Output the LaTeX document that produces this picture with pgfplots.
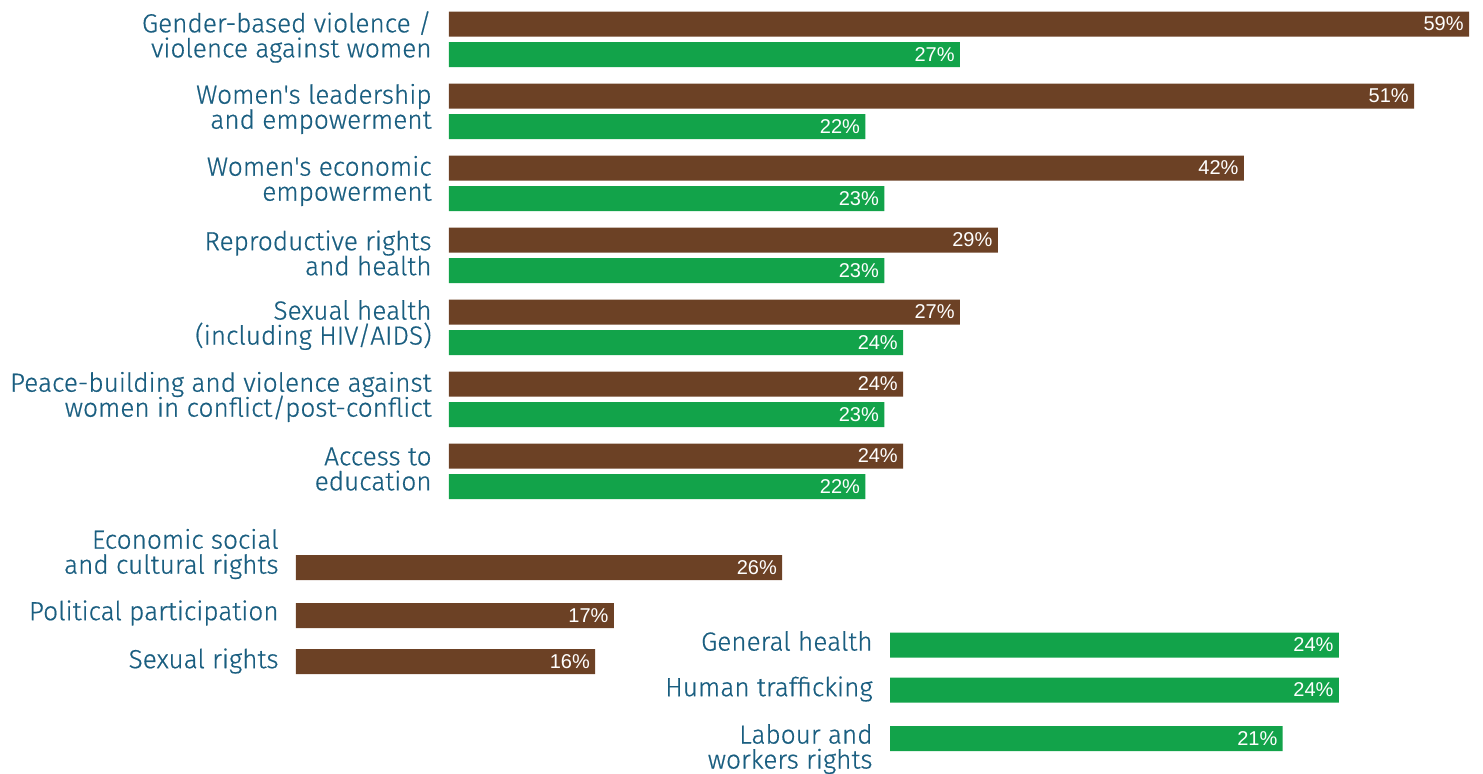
\documentclass[border=0pt]{standalone}
\usepackage{pgfplots}
\pgfplotsset{compat=1.18}
\usepackage{fontspec}
\setmainfont{Fira Sans}
\newfontfamily\lblfamily{Fira Sans Light}[FakeBold=0.6]
\newfontfamily\valfont{Liberation Sans}
\definecolor{cbrown}{HTML}{6C4125}
\definecolor{cgreen}{HTML}{12A34A}
\definecolor{ctext}{HTML}{1A5E80}
\setlength{\lineskiplimit}{-20pt}
\pgfplotsset{
 panel/.style={scale only axis, y dir=reverse, axis line style={draw=none},
   major tick length=0pt, xtick=\empty, xbar, bar width=12.5pt, bar shift=0pt,
   xmin=0, ytick pos=left, clip=false,
   /pgf/number format/assume math mode=true,
   point meta=rawx,
   nodes near coords={\pgfmathprintnumber{\pgfplotspointmeta}\%},
   every node near coord/.append style={anchor=east, text=white,
     font=\valfont\fontsize{10}{12}\selectfont, inner sep=0pt, xshift=-2.5pt},
   y tick label style={align=right, anchor=east, inner sep=0pt, xshift=-8.5pt,
     text=ctext, font=\lblfamily\fontsize{13.1}{12.5}\selectfont}},
}
\begin{document}
\begin{tikzpicture}
\path[use as bounding box] (0,0) rectangle (741.5pt,386.5pt);
% top panel
\begin{axis}[panel, at={(224.5pt,386.5pt)}, anchor=north west,
  width=510pt, height=250pt, xmax=53.9, ymin=0, ymax=500,
  x filter/.expression={min(x,53.9)},
  ytick={37,109,181,253,325,397,469},
  yticklabels={{Gender-based violence /\\violence against women},
    {Women's leadership\\and empowerment},
    {Women's economic\\empowerment},
    {Reproductive rights\\and health},
    {Sexual health\\(including HIV/AIDS)},
    {Peace-building and violence against\\women in conflict/post-conflict},
    {Access to\\education}}]
\addplot[fill=cbrown, draw=none] coordinates {(59,24) (51,96) (42,168) (29,240) (27,312) (24,384) (24,456)};
\addplot[fill=cgreen, draw=none] coordinates {(27,54.5) (22,126.5) (23,198.5) (23,270.5) (24,342.5) (23,414.5) (22,486.5)};
\end{axis}
% bottom left panel
\begin{axis}[panel, at={(148pt,136.5pt)}, anchor=north west,
  width=280.5pt, height=136.5pt, xmax=30, ymin=500, ymax=773,
  ytick={554,613,661},
  yticklabels={{Economic social\\and cultural rights},{Political participation},{Sexual rights}}]
\addplot[fill=cbrown, draw=none] coordinates {(26,567.5) (17,615.5) (16,661.5)};
\end{axis}
% bottom right panel
\begin{axis}[panel, at={(445pt,136.5pt)}, anchor=north west,
  width=280.5pt, height=136.5pt, xmax=30, ymin=500, ymax=773,
  ytick={641,689,749},
  yticklabels={{General health},{Human trafficking},{Labour and\\workers rights}}]
\addplot[fill=cgreen, draw=none] coordinates {(24,645) (24,690) (21,738.5)};
\end{axis}
\end{tikzpicture}
\end{document}
